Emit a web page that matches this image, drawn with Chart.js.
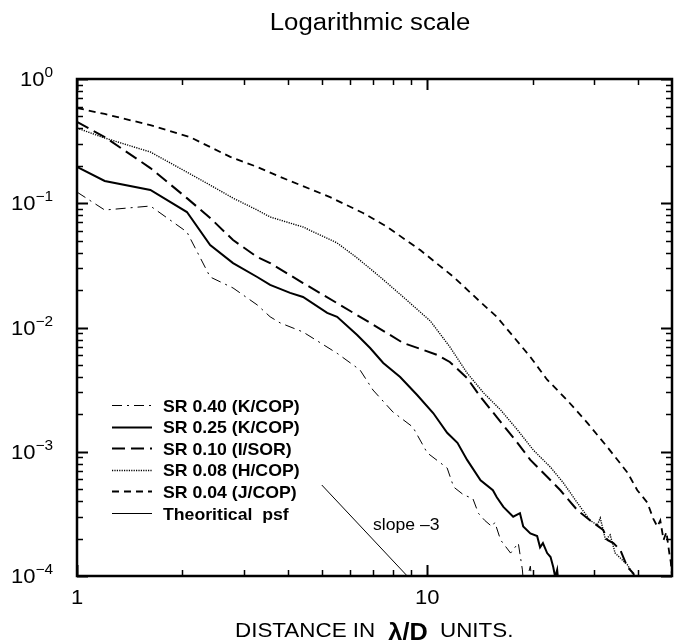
<!DOCTYPE html>
<html>
<head>
<meta charset="utf-8">
<script src="https://cdn.jsdelivr.net/npm/chart.js@4.4.1/dist/chart.umd.min.js"></script>
<style>
  html, body { margin: 0; padding: 0; background: #fff; }
  canvas { display: block; }
</style>
</head>
<body>
<canvas id="chart" width="683" height="641"></canvas>
<script>
// Radial intensity profiles (normalised to the peak) against distance in lambda/D.
const seriesNames = [
  "SR 0.40 (K/COP)", "SR 0.25 (K/COP)", "SR 0.10 (I/SOR)",
  "SR 0.08 (H/COP)", "SR 0.04 (J/COP)", "Theoritical  psf"
]

const sr40X = [1, 1.2, 1.62, 2.06, 2.4, 2.79, 3.27, 3.56, 3.8, 4.42, 5.53, 6.43, 7.0, 7.98, 9.1, 10.0, 11.4, 11.9, 12.7, 13.5, 14.0, 14.6, 15.3, 15.6, 16.2, 17.3, 18.2, 18.7, 18.9, 19.7, 20.2]
const sr40Y = [0.123, 0.0882, 0.095, 0.0587, 0.0255, 0.0208, 0.0152, 0.0122, 0.0109, 0.0092, 0.0062, 0.00455, 0.00314, 0.00209, 0.00158, 0.00098, 0.00074, 0.00052, 0.00045, 0.00042, 0.00032, 0.00028, 0.00025, 0.00027, 0.000195, 0.000153, 0.000184, 0.000112, 0.000077, 0.00012, 0.00006]

const sr25X = [1, 1.2, 1.62, 2.06, 2.4, 2.79, 3.27, 3.56, 4.06, 4.42, 5.18, 5.53, 6.31, 6.87, 7.49, 8.37, 9.36, 10.4, 11.4, 12.2, 13.0, 14.2, 15.4, 15.8, 16.5, 17.6, 18.4, 18.8, 19.7, 20.6, 21.0, 21.4, 22.0, 22.5, 22.9, 23.2, 23.5, 23.8]
const sr25Y = [0.196, 0.151, 0.128, 0.085, 0.0461, 0.033, 0.0255, 0.022, 0.019, 0.0176, 0.0131, 0.0122, 0.0087, 0.00684, 0.00518, 0.004, 0.00286, 0.00205, 0.00142, 0.00118, 0.00086, 0.00059, 0.00049, 0.00043, 0.00036, 0.0003, 0.00032, 0.00025, 0.00022, 0.00021, 0.00017, 0.000184, 0.000153, 0.000142, 0.000118, 0.000098, 0.000112, 0.000077]

const sr10X = [1, 1.2, 1.62, 2.06, 2.4, 2.79, 3.27, 3.56, 4.42, 5.53, 6.87, 8.54, 9.74, 10.7, 11.6, 13.0, 14.2, 15.8, 18.1, 19.7, 22.0, 24.0, 26.8, 29.2, 31.8, 32.7, 34.0, 35.6, 37.3, 38.8, 39.7]
const sr10Y = [0.451, 0.341, 0.192, 0.110, 0.0761, 0.0506, 0.0369, 0.033, 0.0228, 0.0157, 0.0109, 0.0075, 0.0066, 0.006, 0.00528, 0.00392, 0.00276, 0.0019, 0.00118, 0.00086, 0.00063, 0.00049, 0.00034, 0.00028, 0.000235, 0.000195, 0.000184, 0.000162, 0.000118, 0.000105, 0.000077]

const sr08X = [1, 1.2, 1.62, 2.06, 2.4, 2.79, 3.27, 3.56, 4.42, 5.53, 6.31, 7.34, 8.54, 10.2, 11.6, 13.0, 14.5, 16.2, 18.1, 20.1, 22.5, 24.5, 26.8, 29.2, 30.6, 31.2, 32.3, 33.3, 34.4, 37.3, 38.8, 40.1]
const sr08Y = [0.403, 0.335, 0.2585, 0.178, 0.140, 0.110, 0.0882, 0.0775, 0.0644, 0.0479, 0.0363, 0.0255, 0.0176, 0.0113, 0.0070, 0.0043, 0.00297, 0.00217, 0.0015, 0.00103, 0.00075, 0.00056, 0.00039, 0.00028, 0.000257, 0.000293, 0.000195, 0.000214, 0.000153, 0.000123, 0.000102, 0.000077]

const sr04X = [1, 1.2, 1.62, 2.1, 2.74, 3.27, 3.8, 5.28, 6.56, 7.69, 9.55, 11.9, 14.2, 15.8, 19.7, 22.0, 25.1, 28.7, 32.7, 37.3, 39.8, 42.5, 44.2, 45.4, 46.3, 47.3, 48.2, 49.2, 49.6, 50]
const sr04Y = [0.584, 0.523, 0.426, 0.341, 0.236, 0.196, 0.163, 0.112, 0.0834, 0.0644, 0.042, 0.0255, 0.016, 0.0122, 0.0058, 0.0038, 0.0026, 0.0017, 0.00109, 0.00068, 0.00049, 0.00039, 0.00029, 0.00025, 0.00028, 0.000195, 0.000226, 0.000148, 0.00013, 0.0001]

// reference r^-3 segment
const psfX = [5.0, 8.77]
const psfY = [0.00054, 0.0001]

const xMajorTicks = [1, 10]
const xMinorTicks = [2, 3, 4, 5, 6, 7, 8, 9, 20, 30, 40]
const xTickLabels = ["1", "10"]
const yDecades = [1, 0.1, 0.01, 0.001, 0.0001]
const yExponents = ["0", "\u22121", "\u22122", "\u22123", "\u22124"]
const yMinorSteps = [2, 3, 4, 5, 6, 7, 8, 9]

const FONT = '"Liberation Sans", Arial, Helvetica, sans-serif'

const pts = (xs, ys) => xs.map((x, i) => ({ x, y: ys[i] }))

// text in this figure runs a little wide, so stretch it horizontally
function wideText(ctx, text, x, y, font, align, sx) {
  ctx.save()
  ctx.font = font
  const w = ctx.measureText(text).width * sx
  let left = x
  if (align === "center") left = x - w / 2
  else if (align === "right") left = x - w
  ctx.translate(left, y)
  ctx.scale(sx, 1)
  ctx.textAlign = "left"
  ctx.textBaseline = "alphabetic"
  ctx.fillStyle = "#000"
  ctx.fillText(text, 0, 0)
  ctx.restore()
  return w
}

const framePlugin = {
  id: "frame",
  afterDatasetsDraw(chart) {
    const { ctx, chartArea: a } = chart
    const xs = chart.scales.x
    const ys = chart.scales.y

    ctx.save()
    ctx.strokeStyle = "#000"
    ctx.lineCap = "butt"
    ctx.setLineDash([])

    // inward ticks on all four sides
    const vtick = (v, len) => {
      const px = Math.round(xs.getPixelForValue(v)) + 0.5
      ctx.beginPath()
      ctx.moveTo(px, a.bottom); ctx.lineTo(px, a.bottom - len)
      ctx.moveTo(px, a.top);    ctx.lineTo(px, a.top + len)
      ctx.stroke()
    }
    const htick = (v, len) => {
      const py = Math.round(ys.getPixelForValue(v)) + 0.5
      ctx.beginPath()
      ctx.moveTo(a.left, py);  ctx.lineTo(a.left + len, py)
      ctx.moveTo(a.right, py); ctx.lineTo(a.right - len, py)
      ctx.stroke()
    }
    ctx.lineWidth = 1.5
    xMinorTicks.forEach(v => vtick(v, 6))
    yDecades.slice(1).forEach(d => yMinorSteps.forEach(m => htick(d * m, 6)))
    ctx.lineWidth = 2
    xMajorTicks.forEach(v => vtick(v, 11))
    yDecades.forEach(v => htick(v, 11))

    // box
    ctx.lineWidth = 2.5
    ctx.strokeRect(a.left, a.top, a.right - a.left, a.bottom - a.top)

    // title
    wideText(ctx, "Logarithmic scale", 370, 30, `23px ${FONT}`, "center", 1.12)

    // y tick labels with superscript exponents
    yDecades.forEach((v, i) => {
      const py = ys.getPixelForValue(v)
      ctx.font = `14px ${FONT}`
      const supW = ctx.measureText(yExponents[i]).width * 1.1
      const baseRight = 53 - supW
      wideText(ctx, "10", baseRight, py + 7, `20px ${FONT}`, "right", 1.1)
      wideText(ctx, yExponents[i], baseRight, py - 2, `14px ${FONT}`, "left", 1.1)
    })

    // x tick labels
    xMajorTicks.forEach((v, i) => {
      wideText(ctx, xTickLabels[i], xs.getPixelForValue(v), 604, `20px ${FONT}`, "center", 1.1)
    })

    // x axis title
    wideText(ctx, "DISTANCE IN", 235, 637, `20px ${FONT}`, "left", 1.12)
    wideText(ctx, "\u03bb/D", 408, 640, `bold 23px ${FONT}`, "center", 1.1)
    wideText(ctx, "UNITS.", 440, 637, `20px ${FONT}`, "left", 1.12)

    // slope annotation next to the psf segment
    wideText(ctx, "slope \u20133", 373, 530, `16px ${FONT}`, "left", 1.1)

    // legend inside the plot
    chart.data.datasets.forEach((ds, i) => {
      const y = 405 + i * 21.6
      ctx.save()
      ctx.lineWidth = ds.borderWidth
      ctx.setLineDash(ds.borderDash || [])
      ctx.beginPath()
      ctx.moveTo(112, Math.round(y) + 0.5)
      ctx.lineTo(152, Math.round(y) + 0.5)
      ctx.stroke()
      ctx.restore()
      wideText(ctx, seriesNames[i], 163, y + 6.5, `bold 17px ${FONT}`, "left", 1.04)
    })
    ctx.restore()
  }
}

const line = (i, xs, ys, width, dash) => ({
  label: seriesNames[i],
  data: pts(xs, ys),
  showLine: true,
  borderColor: "#000",
  backgroundColor: "#000",
  borderWidth: width,
  borderDash: dash,
  pointRadius: 0,
  tension: 0,
  fill: false,
})

new Chart(document.getElementById("chart"), {
  type: "scatter",
  data: {
    datasets: [
      line(0, sr40X, sr40Y, 1,   [10, 5, 2, 5]),
      line(1, sr25X, sr25Y, 2,   []),
      line(2, sr10X, sr10Y, 2,   [13, 6]),
      line(3, sr08X, sr08Y, 1.4, [1.2, 1.2]),
      line(4, sr04X, sr04Y, 1.8, [7, 5]),
      line(5, psfX,  psfY,  1,   []),
    ]
  },
  options: {
    responsive: false,
    animation: false,
    layout: { padding: { left: 77, right: 11, top: 79, bottom: 65 } },
    plugins: { legend: { display: false }, tooltip: { enabled: false }, title: { display: false } },
    scales: {
      x: { type: "logarithmic", min: 1, max: 50, display: false },
      y: { type: "logarithmic", min: 0.0001, max: 1, display: false }
    }
  },
  plugins: [framePlugin]
})
</script>
</body>
</html>
